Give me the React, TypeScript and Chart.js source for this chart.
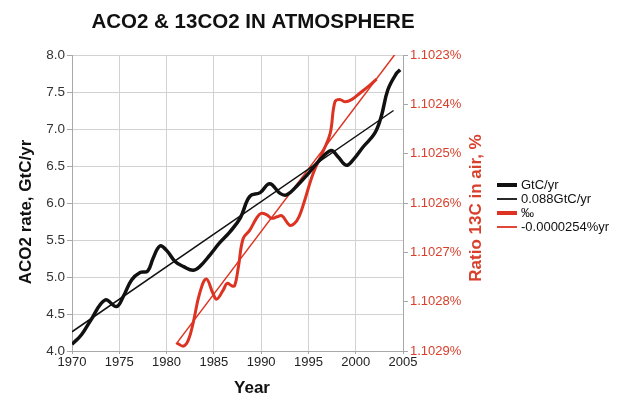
import React, { useEffect, useRef } from "react";
import { Chart, registerables } from "chart.js";

Chart.register(...registerables);

const FONT = '"Liberation Sans", Arial, Helvetica, sans-serif';

// Annual atmospheric CO2 growth rate, GtC/yr (smoothed curve)
const co2Years = [1970, 1971, 1972, 1973.5, 1974.7, 1975.4, 1976.3, 1977.2, 1978, 1978.6, 1979.3, 1980, 1980.9, 1981.8, 1982.8, 1983.5, 1984.6, 1985.6, 1986.7, 1987.8, 1988.8, 1989.9, 1990.9, 1992, 1992.7, 1993.7, 1995, 1996.2, 1997.4, 1998.1, 1999, 1999.7, 2000.8, 2002, 2002.7, 2003.4, 2004.3, 2004.7];
const co2Rate = [4.09, 4.22, 4.42, 4.69, 4.6, 4.73, 4.96, 5.06, 5.08, 5.26, 5.42, 5.36, 5.21, 5.14, 5.09, 5.14, 5.3, 5.46, 5.61, 5.8, 6.09, 6.14, 6.26, 6.13, 6.11, 6.22, 6.4, 6.58, 6.71, 6.63, 6.51, 6.58, 6.76, 6.94, 7.17, 7.53, 7.75, 7.8];

// Linear fit of the growth rate, 0.088 GtC/yr per year
const co2TrendYears = [1970, 2004];
const co2TrendRate = [4.26, 7.25];

// 13C ratio in air, %
const c13Years = [1981.1, 1981.8, 1982.3, 1982.8, 1983.5, 1984.2, 1984.9, 1985.3, 1986.0, 1986.4, 1986.9, 1987.2, 1987.6, 1988.1, 1988.8, 1989.5, 1990.0, 1990.6, 1991.1, 1991.7, 1992.2, 1993.0, 1993.5, 1994.0, 1994.5, 1995.5, 1996.6, 1997.3, 1997.8, 1998.3, 1998.9, 1999.6, 2000.4, 2001.5, 2002.2];
const c13Ratio = [1.102884, 1.10289, 1.102878, 1.102844, 1.102783, 1.102754, 1.102783, 1.102795, 1.102776, 1.102763, 1.102768, 1.102768, 1.102729, 1.102672, 1.102655, 1.102631, 1.102621, 1.102624, 1.102631, 1.102628, 1.102626, 1.102645, 1.102642, 1.102628, 1.102601, 1.10254, 1.102493, 1.102459, 1.102395, 1.10239, 1.102395, 1.10239, 1.102378, 1.102361, 1.102349];

// Linear fit of the ratio, -0.0000254 %/yr
const c13TrendYears = [1981.0, 2004.3];
const c13TrendRatio = [1.102886, 1.102295];

const yearTicks = [1970, 1975, 1980, 1985, 1990, 1995, 2000, 2005];
const rateTicks = [4.0, 4.5, 5.0, 5.5, 6.0, 6.5, 7.0, 7.5, 8.0];
const ratioTicks = [1.1023, 1.1024, 1.1025, 1.1026, 1.1027, 1.1028, 1.1029];

const seriesLabels = ["GtC/yr", "0.088GtC/yr", "\u2030", "-0.0000254%yr"];

const HEADING = "ACO2 & 13CO2 IN ATMOSPHERE";
const LEFT_TITLE = "ACO2 rate, GtC/yr";
const RIGHT_TITLE = "Ratio 13C in air, %";
const X_TITLE = "Year";

const BLACK = "#111111";
const RED = "#dd3322";
const RED_TEXT = "#d8402c";
const GRID = "#d2d2d2";
const AXIS = "#a8a8a8";

// Legend swatch stroke widths, one per series
const legendStroke = [4, 1.8, 4, 1.8];

const toPoints = (xs: number[], ys: number[]) => xs.map((x, i) => ({ x, y: ys[i] }));

// Heading, axis captions and the series key, drawn on top of the chart
const captions = {
  id: "captions",
  afterDraw(chart: any) {
    const { ctx, chartArea } = chart;
    ctx.save();
    ctx.textAlign = "center";
    ctx.textBaseline = "alphabetic";

    ctx.fillStyle = BLACK;
    ctx.font = `bold 20.5px ${FONT}`;
    ctx.fillText(HEADING, 253, 28);

    ctx.font = `bold 17px ${FONT}`;
    ctx.fillText(X_TITLE, 252, 393);

    ctx.save();
    ctx.translate(31, 212);
    ctx.rotate(-Math.PI / 2);
    ctx.fillText(LEFT_TITLE, 0, 0);
    ctx.restore();

    ctx.fillStyle = RED_TEXT;
    ctx.save();
    ctx.translate(481, 208);
    ctx.rotate(-Math.PI / 2);
    ctx.fillText(RIGHT_TITLE, 0, 0);
    ctx.restore();

    // series key
    const keyLeft = chartArea.right + 94;
    const keyTop = 185;
    const rowGap = 14;
    ctx.font = `13px ${FONT}`;
    ctx.textAlign = "left";
    ctx.textBaseline = "middle";
    chart.data.datasets.forEach((ds: any, i: number) => {
      const y = keyTop + i * rowGap;
      ctx.strokeStyle = ds.borderColor;
      ctx.lineWidth = legendStroke[i];
      ctx.lineCap = "butt";
      ctx.beginPath();
      ctx.moveTo(keyLeft, y);
      ctx.lineTo(keyLeft + 20, y);
      ctx.stroke();
      ctx.fillStyle = BLACK;
      ctx.fillText(ds.label, keyLeft + 24, y);
    });

    ctx.restore();
  },
};

export default function App() {
  const canvasRef = useRef<HTMLCanvasElement | null>(null);

  useEffect(() => {
    const canvas = canvasRef.current;
    if (!canvas) return;

    const chart = new Chart(canvas, {
      type: "line",
      data: {
        datasets: [
          {
            label: seriesLabels[0],
            data: toPoints(co2Years, co2Rate),
            borderColor: BLACK,
            backgroundColor: BLACK,
            borderWidth: 3.5,
            tension: 0.4,
            pointRadius: 0,
            yAxisID: "y",
          },
          {
            label: seriesLabels[1],
            data: toPoints(co2TrendYears, co2TrendRate),
            borderColor: BLACK,
            backgroundColor: BLACK,
            borderWidth: 1.5,
            pointRadius: 0,
            yAxisID: "y",
          },
          {
            label: seriesLabels[2],
            data: toPoints(c13Years, c13Ratio),
            borderColor: RED,
            backgroundColor: RED,
            borderWidth: 3,
            tension: 0.4,
            pointRadius: 0,
            yAxisID: "y1",
          },
          {
            label: seriesLabels[3],
            data: toPoints(c13TrendYears, c13TrendRatio),
            borderColor: RED,
            backgroundColor: RED,
            borderWidth: 1.5,
            pointRadius: 0,
            yAxisID: "y1",
          },
        ],
      },
      options: {
        animation: false,
        responsive: false,
        devicePixelRatio: 1,
        layout: { padding: { top: 55, right: 0, bottom: 0, left: 0 } },
        plugins: {
          title: { display: false },
          tooltip: { enabled: false },
          legend: { display: false },
        },
        scales: {
          x: {
            type: "linear",
            min: 1970,
            max: 2005,
            afterBuildTicks: (s: any) => {
              s.ticks = yearTicks.map((v) => ({ value: v }));
            },
            afterFit: (s: any) => {
              s.height = 45;
            },
            ticks: {
              color: "#222",
              padding: 1,
              maxRotation: 0,
              font: { family: FONT, size: 13 },
              callback: (v: any) => String(v),
            },
            grid: { color: GRID, tickLength: 3, tickColor: AXIS },
            border: { color: AXIS },
          },
          y: {
            type: "linear",
            position: "left",
            min: 4,
            max: 8,
            afterBuildTicks: (s: any) => {
              s.ticks = rateTicks.map((v) => ({ value: v }));
            },
            afterFit: (s: any) => {
              s.width = 72;
            },
            ticks: {
              color: "#333",
              padding: 2,
              font: { family: FONT, size: 13.5 },
              callback: (v: any) => Number(v).toFixed(1),
            },
            grid: { color: GRID, tickLength: 5, tickColor: AXIS },
            border: { color: AXIS },
          },
          y1: {
            type: "linear",
            position: "right",
            min: 1.1023,
            max: 1.1029,
            reverse: true,
            afterBuildTicks: (s: any) => {
              s.ticks = ratioTicks.map((v) => ({ value: v }));
            },
            afterFit: (s: any) => {
              s.width = 214;
            },
            ticks: {
              color: RED_TEXT,
              padding: 2,
              font: { family: FONT, size: 13 },
              callback: (v: any) => Number(v).toFixed(4) + "%",
            },
            grid: { drawOnChartArea: false, tickLength: 5, color: AXIS },
            border: { color: AXIS },
          },
        },
      },
      plugins: [captions],
    } as any);

    return () => chart.destroy();
  }, []);

  return (
    <div style={{ position: "absolute", left: 0, top: 0, width: 617, height: 396, background: "#fff" }}>
      <canvas ref={canvasRef} width={617} height={396} style={{ display: "block" }} />
    </div>
  );
}
